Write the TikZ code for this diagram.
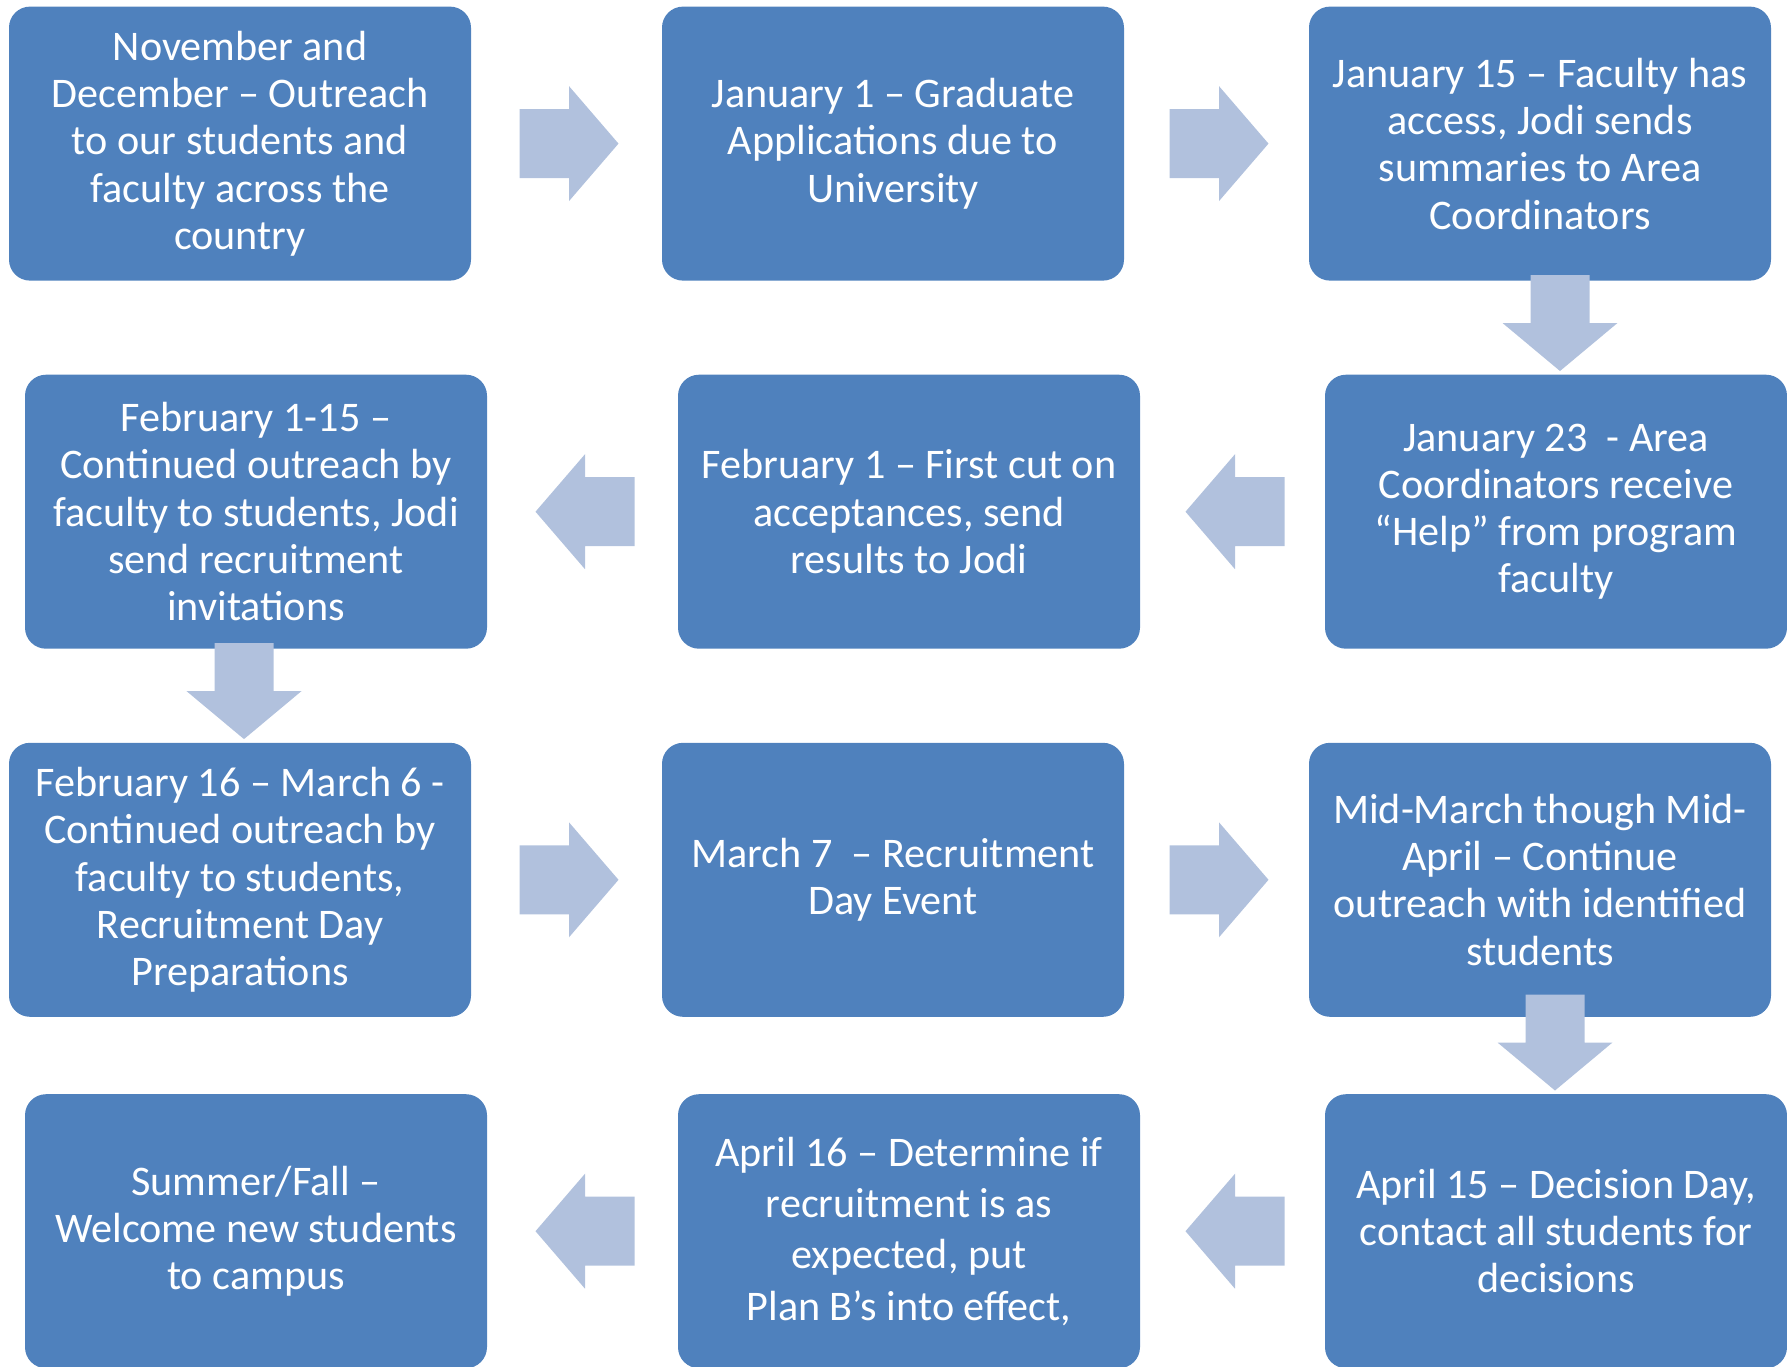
\documentclass[tikz,border=0pt]{standalone}
\usepackage{fontspec}
\setmainfont{Carlito}
\usetikzlibrary{calc}

\definecolor{stepblue}{RGB}{79,129,189}
\definecolor{arrowblue}{RGB}{177,193,221}

\begin{document}
\begin{tikzpicture} [x=0.1mm, y=-0.1mm,
    box/.style={rectangle, rounded corners=2.1mm, fill=stepblue, text=white,
        minimum width=46.2mm, minimum height=27.4mm, inner sep=0pt,
        align=center, font=\fontsize{12}{13.45}\selectfont},
    flowarrow/.style={fill=arrowblue}]

\useasboundingbox (0,0) rectangle (1787,1366);

\node (b1) [box] at (240, 143.6) {November and\\ December – Outreach\\ to our students and\\ faculty across the\\ country};

\node (b2) [box] at (893, 143.6) {January 1 – Graduate\\ Applications due to\\ University};

\node (b3) [box] at (1540, 143.6) {January 15 – Faculty has\\ access, Jodi sends\\ summaries to Area\\ Coordinators};

\node (b4) [box] at (256, 511.7) {February 1-15 –\\ Continued outreach by\\ faculty to students, Jodi\\ send recruitment\\ invitations};

\node (b5) [box] at (909, 511.7) {February 1 – First cut on\\ acceptances, send\\ results to Jodi};

\node (b6) [box] at (1556, 511.7) {January 23~ - Area\\ Coordinators receive\\ “Help” from program\\ faculty};

\node (b7) [box] at (240, 879.8) {February 16 – March 6 -\\ Continued outreach by\\ faculty to students,\\ Recruitment Day\\ Preparations};

\node (b8) [box] at (893, 879.8) {March 7~ – Recruitment\\ Day Event};

\node (b9) [box] at (1540, 879.8) {Mid-March though Mid-\\ April – Continue\\ outreach with identified\\ students};

\node (b10) [box] at (256, 1231.2) {Summer/Fall –\\ Welcome new students\\ to campus};

\node (b11) [box, font=\fontsize{12}{14.6}\selectfont] at (909, 1231.2) {April 16 – Determine if\\ recruitment is as\\ expected, put\\ Plan B’s into effect,};

\node (b12) [box] at (1556, 1231.2) {April 15 – Decision Day,\\ contact all students for\\ decisions};

% Arrows
\foreach \a/\b/\r in {b1/b2/0, b2/b3/0, b6/b5/180, b5/b4/180,
                      b7/b8/0, b8/b9/0, b12/b11/180, b11/b10/180}
    \fill [flowarrow, shift={($(\a)!0.5!(\b)$)}, xshift=0.25mm, rotate=\r]
        (-49.5,-34.5) -- (0,-34.5) -- (0,-57.5) -- (49.5,0)
        -- (0,57.5) -- (0,34.5) -- (-49.5,34.5) -- cycle;

\foreach \a/\b/\dx in {b3/b6/4, b4/b7/4, b9/b12/-1}
    \fill [flowarrow, shift={($(\b.north)+(\dx,-51)$)}, rotate=-90]
        (-48,-29.5) -- (0,-29.5) -- (0,-57.5) -- (48,0)
        -- (0,57.5) -- (0,29.5) -- (-48,29.5) -- cycle;
\end{tikzpicture}
\end{document}
